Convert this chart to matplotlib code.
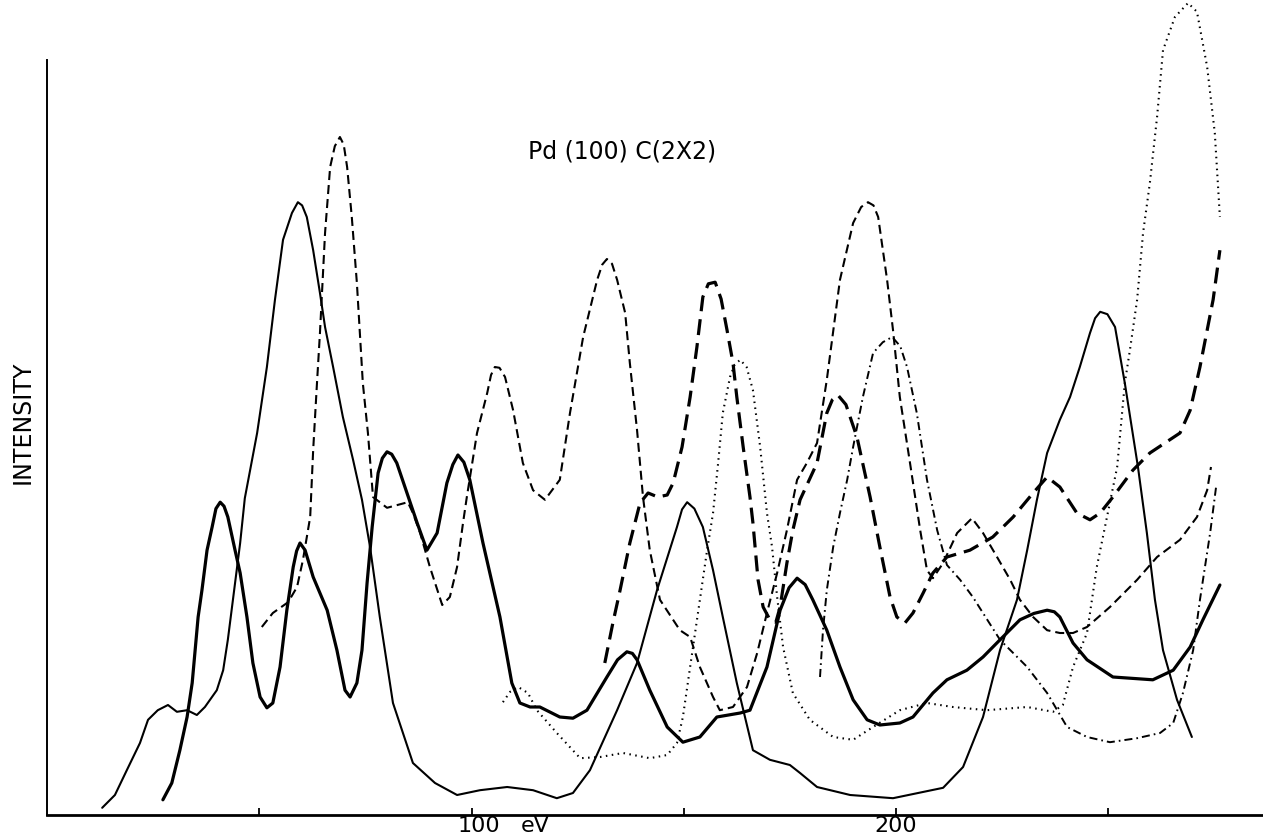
import matplotlib
matplotlib.use("Agg")
import matplotlib.pyplot as plt
import matplotlib.transforms as mtransforms

# LEED intensity-energy curves, Pd(100) c(2x2); energy in eV, intensity in arbitrary units
s1_ev = [13.0, 16.0, 18.8, 21.9, 23.8, 26.1, 28.5, 30.6, 33.0, 35.3, 37.2, 40.0, 41.5, 42.6, 43.8, 45.5,
         46.6, 49.5, 51.8, 53.7, 55.6, 57.7, 59.1, 60.1, 61.2, 62.7, 64.3, 65.5, 67.4, 69.7, 72.1, 74.2,
         76.1, 78.4, 81.5, 86.2, 91.4, 96.6, 102.0, 108.4, 114.5, 120.1, 123.9, 127.9, 134.3, 139.0,
         143.7, 148.4, 149.6, 150.8, 152.5, 154.5, 156.9, 159.2, 162.5, 166.3, 170.3, 175.0, 177.4,
         181.4, 189.2, 199.3, 211.1, 215.8, 220.5, 224.5, 228.5, 230.9, 233.2, 235.6, 238.6, 241.0,
         243.3, 245.7, 246.9, 248.1, 249.8, 251.6, 253.9, 257.0, 259.1, 261.0, 262.9, 266.2, 269.7]
s1_int = [0.9, 2.5, 5.6, 9.0, 11.9, 13.1, 13.75, 12.9, 13.1, 12.5, 13.5, 15.6, 18.1, 21.9, 26.9, 34.0,
          39.6, 47.75, 56.0, 64.4, 71.9, 75.25, 76.6, 76.2, 74.75, 70.6, 65.25, 61.0, 56.0, 49.75, 44.4,
          39.4, 33.5, 24.75, 14.0, 6.5, 4.0, 2.5, 3.1, 3.5, 3.1, 2.1, 2.75, 5.6, 13.1, 19.0, 28.1, 36.0,
          38.2, 39.1, 38.3, 36.0, 30.6, 24.75, 16.5, 8.1, 6.9, 6.25, 5.25, 3.5, 2.5, 2.1, 3.4, 6.0, 12.25,
          20.6, 26.9, 33.1, 39.4, 45.25, 49.4, 52.25, 56.0, 60.25, 62.1, 62.9, 62.6, 61.0, 54.0, 43.5,
          35.25, 26.9, 20.6, 14.4, 9.75]

s2_ev = [27.3, 29.4, 31.3, 33.0, 34.2, 35.6, 36.5, 37.7, 38.9, 39.8, 40.8, 41.7, 42.6, 44.3, 45.5, 47.1,
         48.5, 50.2, 51.8, 53.2, 54.9, 56.5, 58.0, 58.8, 59.6, 60.8, 62.7, 66.0, 68.3, 70.2, 71.4, 73.0,
         74.2, 75.4, 76.6, 78.0, 79.0, 80.1, 81.2, 82.4, 84.8, 87.2, 89.5, 91.9, 94.2, 95.6, 96.8, 98.2,
         99.6, 102.7, 106.7, 109.5, 111.4, 113.8, 116.1, 120.8, 123.9, 127.2, 131.9, 134.4, 136.6,
         137.9, 139.0, 142.0, 146.1, 149.8, 153.8, 157.8, 163.3, 165.6, 169.6, 172.7, 174.8, 176.7,
         178.6, 180.4, 183.7, 186.8, 189.9, 193.2, 196.2, 200.9, 204.0, 208.7, 212.0, 216.7, 220.5,
         224.5, 229.2, 232.5, 235.6, 237.3, 238.6, 241.7, 245.0, 251.1, 260.5, 265.3, 269.3, 272.3,
         276.3]
s2_int = [1.9, 4.0, 8.1, 12.25, 16.5, 24.75, 28.1, 33.1, 36.0, 38.3, 39.1, 38.6, 37.25, 33.1, 30.25,
          24.75, 19.0, 14.75, 13.4, 14.0, 18.5, 25.6, 31.0, 33.0, 34.0, 33.1, 29.75, 25.6, 20.6, 15.6,
          14.75, 16.5, 20.6, 29.0, 36.0, 42.75, 44.6, 45.4, 45.1, 44.0, 40.25, 36.5, 33.1, 35.25, 41.5,
          43.8, 45.0, 44.1, 41.9, 34.0, 24.75, 16.5, 14.0, 13.5, 13.5, 12.25, 12.1, 13.1, 17.25, 19.4,
          20.4, 20.2, 19.4, 15.6, 11.0, 9.1, 9.75, 12.25, 12.75, 13.1, 18.5, 25.6, 28.4, 29.6, 28.8,
          26.9, 23.1, 18.5, 14.4, 11.9, 11.25, 11.5, 12.25, 15.25, 16.9, 18.1, 19.75, 21.9, 24.4, 25.2,
          25.6, 25.4, 24.75, 21.5, 19.4, 17.25, 16.9, 18.1, 21.0, 24.4, 28.75]

d1_ev = [50.6, 53.2, 56.8, 58.9, 60.3, 62.0, 62.7, 63.6, 64.3, 65.5, 66.7, 67.8, 69.0, 69.9, 70.7, 71.8,
         73.0, 73.7, 74.4, 75.6, 76.8, 80.1, 85.0, 86.2, 87.9, 90.2, 93.1, 94.9, 96.6, 98.0, 98.9, 101.3,
         103.7, 104.6, 105.5, 106.6, 107.9, 109.8, 112.1, 114.5, 117.3, 120.8, 123.2, 126.3, 129.6,
         130.8, 131.9, 133.1, 134.3, 136.2, 137.3, 139.0, 140.4, 142.0, 144.4, 149.1, 151.5, 153.8,
         156.9, 158.5, 161.6, 164.9, 167.3, 169.6, 172.0, 174.3, 176.7, 179.0, 181.4, 183.7, 186.8,
         189.9, 191.8, 193.4, 194.7, 195.8, 197.9, 199.3, 200.9, 203.3, 205.7, 207.3, 208.7, 211.1,
         214.4, 217.9, 220.5, 223.8, 226.9, 229.2, 232.3, 235.6, 238.6, 241.7, 245.0, 250.4, 256.8,
         261.5, 266.9, 270.9, 273.3, 274.2]
d1_int = [23.5, 25.25, 26.6, 28.5, 31.9, 37.25, 45.6, 54.0, 60.25, 72.75, 81.0, 83.6, 84.75, 83.8, 81.0,
          74.75, 66.5, 60.25, 54.0, 47.75, 39.75, 38.4, 39.1, 37.75, 35.25, 31.0, 26.25, 27.25, 31.0,
          36.5, 39.75, 47.75, 52.75, 55.0, 56.0, 55.9, 54.75, 50.6, 44.0, 40.6, 39.4, 41.9, 50.25, 59.75,
          66.9, 68.8, 69.5, 68.9, 66.9, 62.75, 56.5, 48.1, 39.75, 33.1, 26.9, 23.1, 22.25, 18.5, 14.75,
          13.1, 13.5, 16.0, 20.25, 25.25, 30.25, 35.6, 41.9, 44.0, 46.5, 54.4, 66.9, 74.0, 76.0, 76.6,
          76.2, 74.75, 66.9, 60.6, 52.25, 44.0, 35.6, 30.6, 29.6, 31.5, 35.25, 37.1, 35.25, 32.25, 29.4,
          26.9, 24.75, 23.1, 22.75, 22.75, 23.5, 26.0, 29.4, 32.25, 34.4, 37.25, 40.6, 43.5]

d2_ev = [131.4, 133.3, 135.0, 137.3, 139.7, 141.6, 143.9, 146.1, 147.5, 149.6, 151.5, 153.1, 154.5,
         155.8, 157.4, 158.8, 160.2, 161.6, 162.5, 164.0, 165.6, 166.3, 167.5, 168.7, 170.3, 171.7,
         172.7, 174.3, 175.7, 177.4, 181.4, 183.7, 185.0, 186.3, 188.2, 190.8, 193.9, 196.2, 198.6,
         200.2, 202.1, 204.0, 206.4, 208.7, 212.0, 217.4, 222.8, 227.6, 232.3, 235.6, 238.6, 242.6,
         245.7, 248.1, 251.1, 255.8, 259.8, 266.9, 269.3, 271.6, 274.7, 276.3]
d2_int = [19.0, 24.0, 28.1, 34.0, 39.0, 40.25, 39.75, 40.0, 41.5, 46.0, 52.25, 58.5, 64.75, 66.4, 66.6,
          64.5, 60.6, 56.5, 52.25, 46.0, 39.75, 36.5, 29.4, 26.0, 24.4, 24.1, 26.0, 31.5, 35.6, 39.4,
          44.0, 50.25, 51.9, 52.5, 51.3, 47.25, 39.75, 33.5, 27.25, 24.75, 24.0, 25.25, 27.75, 30.25,
          32.25, 33.1, 34.75, 37.25, 40.25, 42.25, 41.0, 37.75, 36.9, 37.75, 39.75, 43.1, 45.25, 47.75,
          50.6, 56.0, 64.4, 70.6]

dd_ev = [182.1, 182.8, 183.7, 185.2, 186.8, 188.5, 189.9, 192.2, 194.6, 196.9, 199.1, 201.0, 202.6,
         204.9, 207.3, 209.7, 212.0, 215.1, 218.1, 224.5, 230.9, 235.6, 240.3, 245.0, 250.4, 256.8,
         262.2, 265.3, 267.6, 270.0, 271.6, 274.0, 275.4]
dd_int = [17.25, 23.1, 28.1, 33.5, 37.75, 41.9, 46.0, 52.25, 57.75, 59.1, 59.75, 58.6, 56.0, 50.25,
          41.9, 35.6, 31.25, 29.4, 27.25, 21.9, 18.5, 15.25, 11.0, 9.75, 9.1, 9.6, 10.25, 11.5, 15.25,
          20.6, 26.9, 35.25, 41.0]

dot_ev = [107.4, 109.1, 111.0, 113.3, 115.4, 120.1, 125.6, 130.3, 135.7, 142.0, 146.1, 148.4, 149.8,
          151.5, 153.8, 155.5, 156.9, 158.1, 159.2, 160.9, 162.0, 163.3, 164.8, 166.3, 168.0, 169.6,
          170.8, 172.0, 173.4, 175.7, 179.7, 185.2, 189.9, 194.6, 200.9, 207.3, 213.4, 221.4, 230.9,
          237.0, 239.3, 241.7, 245.0, 247.3, 249.7, 252.1, 253.9, 255.1, 256.8, 258.2, 259.8, 261.5,
          262.9, 265.7, 268.8, 270.9, 273.3, 275.1, 276.3]
dot_int = [14.1, 15.4, 16.0, 15.25, 13.1, 10.25, 7.1, 7.25, 7.75, 7.1, 7.5, 9.0, 12.25, 18.5, 26.9, 33.1,
           37.75, 44.0, 50.25, 54.75, 56.3, 56.9, 56.0, 53.1, 46.0, 37.75, 33.5, 27.25, 21.0, 15.25,
           11.9, 9.75, 9.4, 11.0, 13.1, 14.0, 13.5, 13.1, 13.5, 12.9, 13.75, 18.5, 22.75, 31.0, 37.25,
           43.5, 54.0, 58.1, 64.4, 72.75, 79.0, 87.25, 95.6, 99.75, 101.5, 100.4, 93.5, 85.25, 74.75]

xtick_values = [50, 100, 150, 200, 250]
xtick_labels = ["", "100", "", "200", ""]
title_text = "Pd (100) C(2X2)"
ylabel_text = "INTENSITY"
unit_text = "eV"

plt.rcParams["lines.scale_dashes"] = False
plt.rcParams["font.family"] = ["DejaVu Sans"]

W, H = 1263, 840
fig = plt.figure(figsize=(W / 100, H / 100), dpi=100)
fig.patch.set_facecolor("white")

ax_left, ax_bottom = 47, 25
px_per_ev, px_per_unit = 4.245, 8.0
ax = fig.add_axes([ax_left / W, ax_bottom / H, (W - ax_left) / W, (H - ax_bottom) / H])
ax.set_xlim(0, (W - ax_left) / px_per_ev)
ax.set_ylim(0, (H - ax_bottom) / px_per_unit)

ink = "black"
common = dict(color=ink, solid_joinstyle="round", solid_capstyle="round",
              dash_joinstyle="round", dash_capstyle="butt", clip_on=False)

ax.plot(s1_ev, s1_int, lw=1.5, **common)
ax.plot(s2_ev, s2_int, lw=2.3, **common)
ax.plot(d1_ev, d1_int, lw=1.5, linestyle=(0, (6.5, 3.6)), **common)
ax.plot(d2_ev, d2_int, lw=2.3, linestyle=(0, (11.5, 5.8)), **common)
ax.plot(dd_ev, dd_int, lw=1.4, linestyle=(0, (5.8, 2.9, 1.2, 2.9)), **common)
ax.plot(dot_ev, dot_int, lw=1.5, linestyle=(0, (1.1, 3.2)), **common)

# axes frame: left and bottom rules only
for side in ("top", "right"):
    ax.spines[side].set_visible(False)
ax.spines["left"].set_linewidth(1.4)
ax.spines["bottom"].set_linewidth(2.0)
ax.spines["left"].set_bounds(0, 94.4)
ax.set_yticks([])
ax.set_xticks(xtick_values)
ax.set_xticklabels(xtick_labels, fontsize=16)
ax.tick_params(axis="x", direction="in", length=5, width=1.3, pad=1)

# the hand-lettered "100" sits a little to the right of its tick
shift = mtransforms.ScaledTranslation(7 / 100, 0, fig.dpi_scale_trans)
for lbl in ax.get_xticklabels():
    if lbl.get_text() == "100":
        lbl.set_transform(lbl.get_transform() + shift)

ax.text(113.3, 82.1, title_text, fontsize=17, ha="left", va="baseline")
unit_tf = mtransforms.offset_copy(ax.get_xaxis_transform(), fig=fig, x=0, y=-1, units="points")
ax.text(111.5, 0, unit_text, fontsize=16, ha="left", va="top", transform=unit_tf)
fig.text(22.5 / W, 1 - 422 / H, ylabel_text, rotation=90, fontsize=17, ha="center", va="center")

fig.savefig("out.png", dpi=100, facecolor="white")
